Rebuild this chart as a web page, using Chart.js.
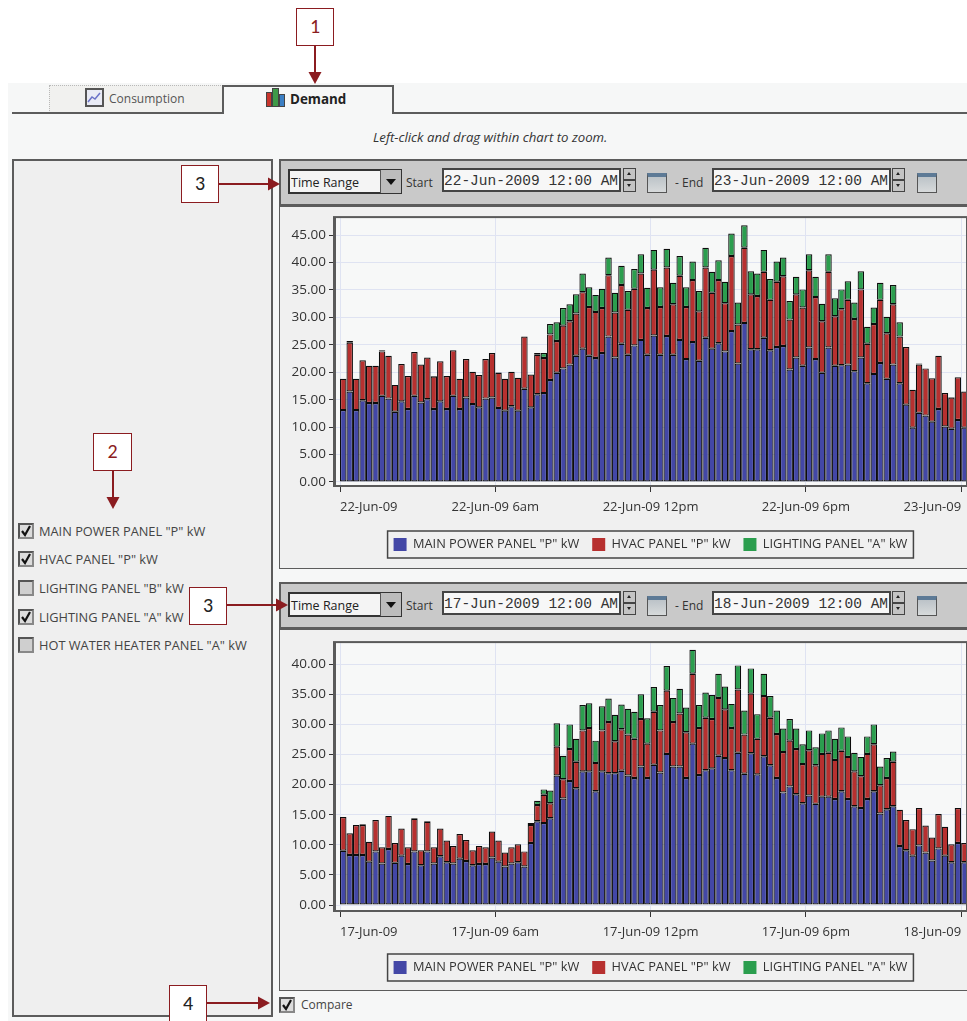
<!DOCTYPE html>
<html><head><meta charset="utf-8">
<script src="https://cdn.jsdelivr.net/npm/chart.js@4"></script>
<style>
html,body{margin:0;padding:0;width:967px;height:1021px;overflow:hidden;background:#fff;font-family:"Open Sans",sans-serif;}
#stage{position:absolute;left:0;top:0;width:967px;height:1021px;overflow:hidden;filter:blur(0.35px);}
.a{position:absolute;box-sizing:border-box;}
.t{position:absolute;white-space:nowrap;color:#3a3a3a;font-size:12px;line-height:16px;}
canvas{position:absolute;display:block;}
</style></head><body>
<div id="stage"></div>
<script>
// ---- data ----
const seriesNames = ['MAIN POWER PANEL "P" kW','HVAC PANEL "P" kW','LIGHTING PANEL "A" kW'];
const panelNames = ['MAIN POWER PANEL "P" kW','HVAC PANEL "P" kW','LIGHTING PANEL "B" kW','LIGHTING PANEL "A" kW','HOT WATER HEATER PANEL "A" kW'];
const panelChecked = [true,true,false,true,false];
const ticksA = ['22-Jun-09','22-Jun-09 6am','22-Jun-09 12pm','22-Jun-09 6pm','23-Jun-09'];
const ticksB = ['17-Jun-09','17-Jun-09 6am','17-Jun-09 12pm','17-Jun-09 6pm','18-Jun-09'];
const xTickSlots = [0,24,48,72,96];
const yTicksA = [0,5,10,15,20,25,30,35,40,45];
const yTicksB = [0,5,10,15,20,25,30,35,40];
const mainA = [13.1,16.5,13.1,14.9,14.4,14.4,15.7,15.2,12.8,14.7,13.3,15.7,14.5,15.1,13.3,14.7,13.3,15.7,13.3,15.4,14.2,13.6,15.2,15.4,13.5,13,13.8,13,17,13.6,16,16.2,18.6,19.9,20.7,21.4,23,24.3,23,22.6,23.5,26.5,22.7,25.2,23.2,24.9,25.9,23.2,26.7,23.2,26.6,23.2,25.9,22.4,25.5,22.1,26.3,24.3,25.3,23.8,27.5,21.6,29,24.2,24.2,26.3,24,24.6,24.8,20.5,22.7,21.2,24.5,22.4,19.9,24.5,21.2,21.3,21.4,20.2,22.7,18,19.7,21.7,18.8,21.4,18,14.1,9.9,12.6,12.1,11,13.3,10.1,9.7,11.3,9.9];
const hvacA = [5.7,8.9,5.7,7.3,6.8,6.8,8.1,7.8,4.9,6.8,6,8,6.9,7.6,5.9,7.3,6,8.3,5.5,7,5.9,5.9,7.2,8.1,6.4,5.8,6.3,6,9.5,6,7.2,6.4,8.3,5.8,7.8,7.9,7.7,10.3,8.9,8.4,8.2,11.2,8.2,10.7,8.2,10.3,12.1,8.5,12,8.7,12.5,9.2,11.7,9.5,11.3,9,12.8,10.2,11.5,8.8,13.7,7.1,13.7,10,9.7,12,9.2,11.9,12.7,9.1,11.5,10.6,14.1,11.3,9.4,13.8,9,10.2,11.8,9.5,12.4,7.2,9.1,11.5,8.3,11,8.5,10.5,6.9,8.8,8.6,7.9,9.7,6.1,5.7,7.8,6.6];
const lightA = [0,.3,0,0,0,0,.2,0,0,0,0,0,0,0,.1,0,0,0,0,0,0,0,0,0,.1,0,0,0,0,0,.3,.9,1.9,3.4,3.2,3.1,3.5,3.4,3.6,3.1,3.5,3.2,3.6,3.5,3.4,3.6,3.5,3.7,3.6,3.6,3.4,3.9,3.6,3.6,3.4,3.7,3.6,3.8,3.6,3.9,4.1,4,4.1,4.2,4.1,4,3.8,3.7,3.4,3.4,3.2,3.3,2.9,3.7,3.2,3.2,3.3,3.6,3.4,3,3.3,3.1,3,3.1,3,3.5,2.6,0,0,.2,0,0,0,0,.1,0,0];
const mainB = [9,8.3,8.3,8.3,7.2,8.9,6.9,9.3,7,8.2,6.8,8.9,6.6,8.9,6.9,8.1,7.1,6.9,7.7,7.3,6.6,6.8,6.8,7.9,7.2,6.4,6.9,7.1,6.4,10.3,13.9,13.6,14.4,21.5,17.7,20.6,19.4,22.2,22.2,18.9,22.2,21.9,21.9,22.3,21.5,21.1,23,21.1,23.3,22,25.1,23,23,21.1,26.8,21.6,22.4,22.7,24.8,24.4,22.4,25.3,21.8,25.2,21.7,24.7,23.2,21.1,18.7,19.7,18.4,16.9,18.2,16.8,18,18,17.6,18.9,17.6,16.4,16.1,17.6,18.9,15.2,15.9,16.4,9.8,9.1,8.2,9.9,8.7,7.4,9.4,8.2,7.1,10.3,7.1];
const hvacB = [5.6,3.6,5,5,3.3,5.2,2.7,5.5,3.3,4.5,2.8,5.4,2.5,4.9,2.7,4.6,3.6,2.9,4.1,3.5,2.5,3,2.8,4.3,3.5,2.3,2.7,3,2.5,3,2.7,4.7,2.5,4.8,3.2,5.3,4.4,6.8,7.2,4.7,6.8,8.5,5.3,6.9,6.8,6.5,7.9,5.7,8.8,7,10.5,7.4,8.8,7.6,11.6,7.8,8.7,8.2,9.6,8.1,7,10.5,6.5,9.9,5.9,10,7.9,7.3,6.7,7.6,7.5,6.5,7.5,6.4,7.1,7.3,6.5,6.7,7,5.8,5.3,7.5,7.8,4.7,5.2,7.4,6,5,4.4,6.2,4.5,3.8,5.7,4.8,3,5.8,3.2];
const lightB = [0,0,0,.1,0,0,0,0,0,0,0,.1,0,.1,0,0,0,0,0,0,0,0,0,0,0,0,0,0,0,.3,.7,.9,2.1,3.9,3.9,4.1,3.8,4.2,4.1,3.7,4,3.9,4.4,4.1,4.3,4.5,4.1,4.2,4.1,4.2,4.1,4,4.1,4.1,4,3.8,4.2,4,4,3.8,4,4,4,4.2,4.1,3.7,3.6,3.9,3.9,3.6,3.4,3.3,3.3,3,3.4,3.7,3.5,3.9,3.4,3.1,3.2,2.9,3.3,3.1,3.3,1.7,0,0,0,0,0,0,0,0,0,0,0];

const stage = document.getElementById('stage');
function box(x,y,w,h,css){const d=document.createElement('div');d.className='a';d.style.cssText=`left:${x}px;top:${y}px;width:${w}px;height:${h}px;${css||''}`;stage.appendChild(d);return d;}
function text(x,cy,s,css){const d=document.createElement('div');d.className='t';d.textContent=s;d.style.cssText=`left:${x}px;top:${cy-8}px;${css||''}`;stage.appendChild(d);return d;}
const DARK='#5c5c5c';

// ---- application window ----
box(8,83,959,938,'background:#f6f7f7');
box(49,85,174,28,'background:#f1f1ef;border:1px dotted #b9b9b9;border-bottom:none');
box(12,112,955,2,`background:${DARK}`);
box(222,85,172,29,`background:#f6f7f7;border:2px solid ${DARK};border-bottom:none`);
// tab icons
const ic=box(85,88,19,19,'border:2px solid #555;background:#e9ebf5');
ic.innerHTML='<svg width="15" height="15" style="position:absolute;left:0;top:0"><polyline points="1,12 5,7 8,9 13,3" fill="none" stroke="#6a72c8" stroke-width="1.5"/></svg>';
box(266,92,6,15,'background:#c8352d;border:1px solid #444');
box(272,88,7,19,'background:#3f9a48;border:1px solid #444');
box(279,94,6,13,'background:#3b7fc4;border:1px solid #444');
text(109,99,'Consumption','font-size:12px;color:#555');
text(290,99,'Demand','font-size:13.4px;font-weight:700;color:#222');
text(373,137,'Left-click and drag within chart to zoom.','font-style:italic;font-size:13.2px;color:#333');

// ---- left panel ----
box(12,159,261,858,`background:#efefef;border:2px solid ${DARK}`);
function check(x,cy,on){
  const c=box(x,cy-8,16,16,`background:${on?'#dcdcdc':'#cfcfcf'};border:2px solid #555;border-right-color:#888;border-bottom-color:#888`);
  if(on)c.innerHTML='<svg width="12" height="12" style="position:absolute;left:0;top:0"><polyline points="2,6 5,10 10,1" fill="none" stroke="#111" stroke-width="2.2"/></svg>';
}
const rowY=[531,559,588,617,645];
panelNames.forEach((n,i)=>{check(18,rowY[i],panelChecked[i]);text(39,rowY[i],n,'font-size:12.8px;color:#444');});

// ---- right panels ----
function toolbar(y,s,e){
  box(279,y,688,47,`background:#c9c9c9;border:2px solid ${DARK};border-right:none`);
  box(288,y+10,114,25,'background:#f4f4f4;border:2px solid #333');
  box(380,y+11,21,23,'background:#bcbcbc;border-left:1px solid #555');
  box(386,y+20,0,0,'border-left:5px solid transparent;border-right:5px solid transparent;border-top:6px solid #111');
  text(291,y+24,'Time Range','font-size:12.5px;color:#222');
  text(406,y+24,'Start','font-size:12px;color:#333');
  [[442,s,623,647],[712,e,892,917]].forEach(([fx,v,sx,cx])=>{
    box(fx,y+9,179,24,'background:#f7f7f7;border:2px solid #444');
    text(fx+2,y+22,v,'font-family:"Liberation Mono",monospace;font-size:14.5px;color:#333');
    box(sx,y+9,13,24,'background:#c4c4c4;border:1px solid #444');
    box(sx+1,y+20,11,2,'background:#444');
    box(sx+4,y+13,0,0,'border-left:2.5px solid transparent;border-right:2.5px solid transparent;border-bottom:3px solid #222');
    box(sx+4,y+25,0,0,'border-left:2.5px solid transparent;border-right:2.5px solid transparent;border-top:3px solid #222');
    box(cx,y+14,20,20,'background:linear-gradient(#bcc3c8,#d7dadb);border:1px solid #555;border-top:4px solid #5d7a96');
  });
  text(675,y+24,'- End','font-size:12px;color:#333');
}
toolbar(159,'22-Jun-2009 12:00 AM','23-Jun-2009 12:00 AM');
box(279,206,688,363,`background:#f0f0f0;border:1.5px solid ${DARK};border-right:none`);
toolbar(582,'17-Jun-2009 12:00 AM','18-Jun-2009 12:00 AM');
box(279,629,688,362,`background:#f0f0f0;border:1.5px solid ${DARK};border-right:none`);
check(279,1005,true);
text(301,1005,'Compare','font-size:12px;color:#444');

// ---- charts ----
const COLORS=['#4347a6','#b7302f','#2b9e4e'];
const legendFrame={id:'legendFrame',
  afterLayout(c){
    const L=c.legend,a=c.chartArea,d=(a.left+a.right)/2-(L.left+L.right)/2;
    L.left+=d;L.right+=d;L.legendHitBoxes.forEach(h=>{h.left+=d;});
  },
  afterDraw(c){
    const L=c.legend,h=L.legendHitBoxes,g=c.ctx;
    const x0=h[0].left-6,x1=h[2].left+h[2].width+6,cy=h[0].top+h[0].height/2;
    g.save();g.strokeStyle='#444';g.lineWidth=1.5;g.strokeRect(x0,cy-13.5,x1-x0,27);g.restore();
  }};
const plotFrame={id:'plotFrame',
  beforeDraw(c){const a=c.chartArea,g=c.ctx;g.save();g.fillStyle='#f7f8f8';g.fillRect(a.left,a.top,a.width,a.height);g.restore();},
  afterDatasetsDraw(c){const a=c.chartArea,g=c.ctx;g.save();g.strokeStyle='#5a5a5a';g.lineWidth=2;g.strokeRect(a.left-1,a.top-1,a.width+2,a.height+2);g.restore();}};

function makeChart(top,height,main,hvac,light,labels,yTicks,yMax,yMin,xAxisH,padBottom){
  const cv=document.createElement('canvas');cv.width=740;cv.height=height;
  cv.style.cssText=`left:280px;top:${top}px;width:740px;height:${height}px`;
  stage.appendChild(cv);
  const pts=a=>a.map((v,i)=>({x:i+0.5,y:v}));
  const dss=[main,hvac,light].map((a,i)=>({label:seriesNames[i],data:pts(a),backgroundColor:COLORS[i],borderColor:'#0c0c0c',borderWidth:1.2,borderSkipped:false,inflateAmount:0,barPercentage:1,categoryPercentage:1}));
  return new Chart(cv,{type:'bar',data:{datasets:dss},plugins:[plotFrame,legendFrame],options:{
    responsive:false,animation:false,events:[],
    layout:{padding:{top:11,right:54,bottom:padBottom,left:0}},
    plugins:{tooltip:{enabled:false},title:{display:false},
      legend:{position:'bottom',labels:{boxWidth:13,boxHeight:13,padding:13,color:'#333',font:{family:'"Open Sans"',size:12.8},
        generateLabels:ch=>ch.data.datasets.map((d,i)=>({text:d.label,fillStyle:d.backgroundColor,strokeStyle:d.backgroundColor,lineWidth:0,datasetIndex:i,fontColor:'#333'}))}}},
    scales:{
      x:{type:'linear',stacked:true,offset:false,bounds:'data',min:-0.773,max:96.75,
        afterBuildTicks:s=>{s.ticks=xTickSlots.map(value=>({value}));},
        afterFit:s=>{s.height=xAxisH;},
        grid:{offset:false,color:'#dfe3f2',lineWidth:1,tickColor:'#333',tickLength:7},border:{color:'#5a5a5a'},
        ticks:{autoSkip:false,maxRotation:0,align:'inner',padding:7,color:'#333',font:{family:'"Open Sans"',size:13},
          callback:v=>labels[xTickSlots.indexOf(v)]}},
      y:{stacked:true,bounds:'data',min:yMin,max:yMax,
        afterBuildTicks:s=>{s.ticks=yTicks.map(value=>({value}));},
        afterFit:s=>{s.width=55;},
        grid:{color:'#dfe3f2',lineWidth:1,tickColor:'#333',tickLength:6},border:{color:'#5a5a5a'},
        ticks:{autoSkip:false,padding:3,color:'#333',font:{family:'"Open Sans"',size:13.5},callback:v=>v.toFixed(2)}}
    }}});
}
makeChart(207,361,mainA,hvacA,lightA,ticksA,yTicksA,48.1,-0.55,40,7);
makeChart(632,358,mainB,hvacB,lightB,ticksB,yTicksB,43.5,-0.83,38,6);

// ---- annotations ----
const RED='#8b1c20';
function callout(x,y,w,h,s,col){
  const b=box(x,y,w,h,`background:#fff;border:1.5px solid ${RED};z-index:5`);
  const t=text(0,0,s,`position:absolute;left:0;top:0;width:100%;text-align:center;line-height:${h-3}px;font-family:Carlito,"Open Sans",sans-serif;font-size:20px;color:${col}`);
  b.appendChild(t);
}
function arrow(x1,y1,x2,y2){
  const s=document.createElementNS('http://www.w3.org/2000/svg','svg');
  s.setAttribute('width',967);s.setAttribute('height',1021);s.style.cssText='position:absolute;left:0;top:0;z-index:6;pointer-events:none';
  const dx=Math.sign(x2-x1),dy=Math.sign(y2-y1),n=12,w=6.5;
  s.innerHTML=`<line x1="${x1}" y1="${y1}" x2="${x2-dx*n}" y2="${y2-dy*n}" stroke="${RED}" stroke-width="2"/>`+
   `<polygon fill="${RED}" points="${x2},${y2} ${x2-dx*n-dy*w},${y2-dy*n-dx*w} ${x2-dx*n+dy*w},${y2-dy*n+dx*w}"/>`;
  stage.appendChild(s);
}
callout(296,8,38,38,'1',RED);arrow(315,46,315,84);
callout(93,433,39,38,'2',RED);arrow(113,471,113,509);
callout(181,165,38,38,'3','#222');arrow(219,184,280,184);
callout(189,587,38,38,'3','#222');arrow(227,605,288,605);
callout(169,985,38,38,'4','#222');arrow(207,1003,270,1003);
</script></body></html>
